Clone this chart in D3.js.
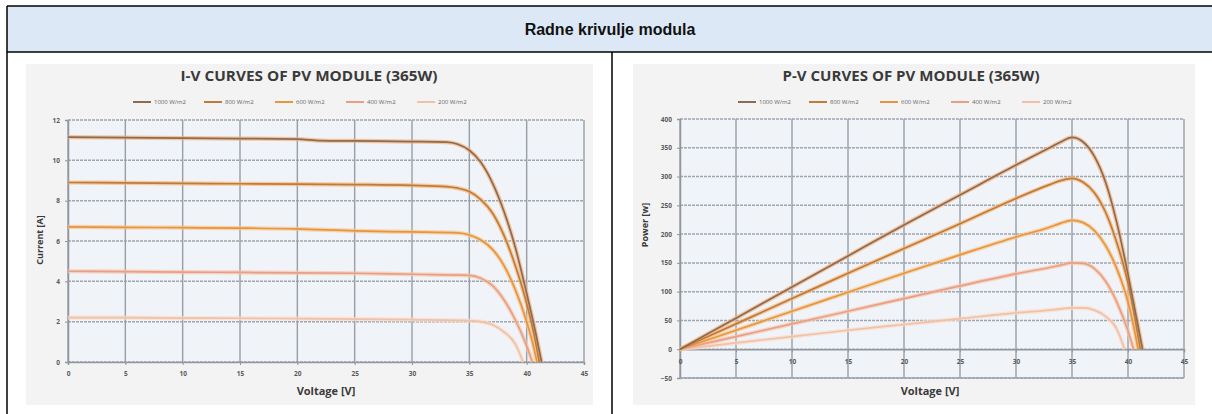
<!DOCTYPE html>
<html><head><meta charset="utf-8">
<script src="https://cdn.jsdelivr.net/npm/d3@7"></script>
<style>body{margin:0;background:#fff}svg{display:block}</style>
</head><body><svg id="c" width="1212" height="414"></svg>
<script>
// ---------- data ----------
const headerTitle = "Radne krivulje modula";
const ivTitle = "I-V CURVES OF PV MODULE (365W)";
const pvTitle = "P-V CURVES OF PV MODULE (365W)";
const seriesNames = ["1000 W/m2", "800 W/m2", "600 W/m2", "400 W/m2", "200 W/m2"];
const voltageTicks = [0, 5, 10, 15, 20, 25, 30, 35, 40, 45];
const currentTicks = [0, 2, 4, 6, 8, 10, 12];
const powerTicks = [-50, 0, 50, 100, 150, 200, 250, 300, 350, 400];

// I-V curves [voltage V, current A]
const iv1000 = [[0,11.15],[5,11.13],[10,11.1],[15,11.08],[20,11.05],[22,10.98],[25,10.96],[30,10.93],[33,10.9],[34,10.8],[35,10.5],[36,9.9],[37,8.9],[38,7.5],[39,5.7],[40,3.4],[40.8,1.4],[41.3,0]];
const iv800  = [[0,8.9],[5,8.88],[10,8.86],[15,8.84],[20,8.82],[25,8.8],[30,8.76],[33,8.7],[34,8.62],[35,8.45],[36,8.05],[37,7.4],[38,6.3],[39,4.8],[40,2.9],[40.7,1.2],[41.1,0]];
const iv600  = [[0,6.7],[5,6.68],[10,6.66],[15,6.64],[20,6.6],[25,6.5],[30,6.45],[34,6.4],[35,6.3],[36,6.05],[37,5.6],[38,4.8],[39,3.6],[40,2.0],[40.5,1.0],[40.9,0]];
const iv400  = [[0,4.5],[5,4.48],[10,4.46],[15,4.44],[20,4.42],[25,4.4],[30,4.35],[35,4.3],[36,4.15],[37,3.8],[38,3.1],[39,2.1],[40,0.8],[40.5,0]];
const iv200  = [[0,2.2],[5,2.2],[10,2.18],[15,2.17],[20,2.15],[25,2.13],[30,2.1],[35,2.05],[36,2.0],[37,1.85],[38,1.5],[39,0.9],[39.7,0]];
const ivSeries = [iv1000, iv800, iv600, iv400, iv200];

// P-V curves [voltage V, power W]
const pv1000 = [[0,0],[5,54],[10,108],[15,162],[20,216],[25,268],[30,320],[33,350],[34,360],[35,368],[36,360],[37,335],[38,290],[39,220],[40,130],[40.8,50],[41.3,0]];
const pv800  = [[0,0],[5,44],[10,88],[15,132],[20,175],[25,218],[30,262],[33,286],[34,293],[35,297],[36,290],[37,272],[38,238],[39,185],[40,115],[40.7,45],[41.1,0]];
const pv600  = [[0,0],[5,33],[10,66],[15,99],[20,132],[25,164],[30,195],[33,212],[34,219],[35,224],[36,220],[37,206],[38,180],[39,140],[40,82],[40.5,40],[40.9,0]];
const pv400  = [[0,0],[5,22],[10,44],[15,66],[20,88],[25,110],[30,131],[33,142],[34,146],[35,150],[36,149],[37,140],[38,118],[39,82],[40,32],[40.5,0]];
const pv200  = [[0,0],[5,11],[10,22],[15,33],[20,43],[25,53],[30,63],[33,68],[34,70],[35,72],[36,72],[37,68],[38,57],[39,35],[39.7,0]];
const pvSeries = [pv1000, pv800, pv600, pv400, pv200];

// styles
const seriesColors = ["#8d6a52", "#bf7b3c", "#e5963f", "#e8a084", "#f1c0a6"];
const haloColors   = ["#f2b27a", "#f6b878", "#f8c48e", "#f7c6ae", "#f9dccb"];

// ---------- drawing ----------
const svg = d3.select("#c");
svg.append("rect").attr("width",1212).attr("height",414).attr("fill","#fff");

// table header
svg.append("rect").attr("x",7).attr("y",6).attr("width",1205).attr("height",46).attr("fill","#dce8f5");
svg.append("text").attr("x",610).attr("y",35).attr("text-anchor","middle")
  .attr("font-family","Liberation Sans, Arial, sans-serif").attr("font-weight","bold").attr("font-size",16)
  .attr("fill","#111").text(headerTitle);

function drawChart(opt){
  const g = svg.append("g");
  g.append("rect").attr("x",opt.box[0]).attr("y",opt.box[1]).attr("width",opt.box[2]).attr("height",opt.box[3]).attr("fill","#f3f3f3");
  const x = d3.scaleLinear().domain([0,45]).range(opt.xr);
  const y = d3.scaleLinear().domain(opt.yd).range(opt.yr);
  g.append("rect").attr("x",opt.xr[0]).attr("y",opt.yr[1]).attr("width",opt.xr[1]-opt.xr[0]).attr("height",opt.yr[0]-opt.yr[1]).attr("fill","#f0f3f8");
  // grid
  g.append("g").selectAll("line").data(opt.yTicks).join("line")
    .attr("x1",opt.xr[0]).attr("x2",opt.xr[1]).attr("y1",d=>y(d)).attr("y2",d=>y(d))
    .attr("stroke","#9ea6b0").attr("stroke-width",1.5).attr("stroke-dasharray","3,1");
  g.append("g").selectAll("line").data(voltageTicks).join("line")
    .attr("x1",d=>x(d)).attr("x2",d=>x(d)).attr("y1",opt.yr[0]).attr("y2",opt.yr[1])
    .attr("stroke","#979ea7").attr("stroke-width",1.4);
  // axes
  const yAxis = d3.axisLeft(y).tickValues(opt.yTicks).tickSize(3).tickFormat(d3.format("d"));
  const ay = g.append("g").attr("transform",`translate(${opt.xr[0]},0)`).call(yAxis);
  ay.select(".domain").attr("stroke","#8f969e").attr("stroke-width",1.5);
  ay.selectAll("line").attr("stroke","#8f969e");
  ay.selectAll("text").attr("fill","#5a5a5a").attr("font-size",6.5).attr("font-weight","bold").attr("font-family","Open Sans, sans-serif").attr("x",-8);
  const xAxis = d3.axisBottom(x).tickValues(voltageTicks).tickSize(3).tickFormat(d3.format("d"));
  const ax = g.append("g").attr("transform",`translate(0,${y(0)})`).call(xAxis);
  ax.select(".domain").attr("stroke","#8f969e").attr("stroke-width",1.5);
  ax.selectAll("line").attr("stroke","#8f969e");
  ax.selectAll("text").attr("fill","#5a5a5a").attr("font-size",6.5).attr("font-weight","bold").attr("font-family","Open Sans, sans-serif").attr("y",opt.xLabelDy);
  if (opt.yd[0] < 0) {
    g.append("line").attr("x1",opt.xr[0]).attr("x2",opt.xr[1]).attr("y1",opt.yr[0]).attr("y2",opt.yr[0]).attr("stroke","#9ea6b0").attr("stroke-width",1.5);
  }
  // curves
  const line = d3.line().x(d=>x(d[0])).y(d=>y(d[1])).curve(d3.curveMonotoneX);
  const order = [4,3,2,1,0];
  order.forEach(i=>{
    g.append("path").attr("d",line(opt.series[i])).attr("fill","none").attr("stroke",haloColors[i]).attr("stroke-width",4.2).attr("stroke-opacity",0.7);
  });
  order.forEach(i=>{
    g.append("path").attr("d",line(opt.series[i])).attr("fill","none").attr("stroke",seriesColors[i]).attr("stroke-width",1.7);
  });
  // title
  g.append("text").attr("x",opt.titleX).attr("y",81).attr("text-anchor","middle")
    .attr("font-family","Open Sans, sans-serif").attr("font-weight","bold").attr("font-size",14)
    .attr("fill","#3a3a3a").attr("textLength",257).attr("lengthAdjust","spacingAndGlyphs").text(opt.title);
  // legend
  const lg = g.append("g").selectAll("g").data(seriesNames).join("g")
    .attr("transform",(d,i)=>`translate(${opt.legX + i*71},102)`);
  lg.append("line").attr("x1",0).attr("x2",18).attr("y1",0).attr("y2",0)
    .attr("stroke",(d,i)=>seriesColors[i]).attr("stroke-width",2);
  lg.append("text").attr("x",21).attr("y",2).attr("font-size",6).attr("font-family","Open Sans, sans-serif")
    .attr("fill","#666").text(d=>d);
  // axis titles
  g.append("text").attr("x",opt.xTitleX).attr("y",395).attr("text-anchor","middle")
    .attr("font-family","Open Sans, sans-serif").attr("font-weight","bold").attr("font-size",11)
    .attr("fill","#3a3a3a").text("Voltage [V]");
  g.append("text").attr("transform",`translate(${opt.yTitleX},${opt.yTitleY}) rotate(-90)`).attr("text-anchor","middle")
    .attr("font-family","Open Sans, sans-serif").attr("font-weight","bold").attr("font-size",9)
    .attr("fill","#3a3a3a").text(opt.yTitle);
}

drawChart({box:[26,64,567,341], xr:[68,584], yd:[0,12], yr:[362,120], yTicks:currentTicks,
  series:ivSeries, title:ivTitle, titleX:309, legX:133, xTitleX:326, yTitleX:43, yTitleY:240,
  yTitle:"Current [A]", xLabelDy:9});
drawChart({box:[633,64,562,341], xr:[680,1184], yd:[-50,400], yr:[378,119], yTicks:powerTicks,
  series:pvSeries, title:pvTitle, titleX:911, legX:738, xTitleX:930, yTitleX:648, yTitleY:225,
  yTitle:"Power [w]", xLabelDy:10});

// table lines
const ln = (x1,y1,x2,y2)=>svg.append("line").attr("x1",x1).attr("y1",y1).attr("x2",x2).attr("y2",y2).attr("stroke","#000").attr("stroke-width",1.5);
ln(7,6,1212,6); ln(7,52,1212,52); ln(7,6,7,414); ln(612,52,612,414);
</script></body></html>
